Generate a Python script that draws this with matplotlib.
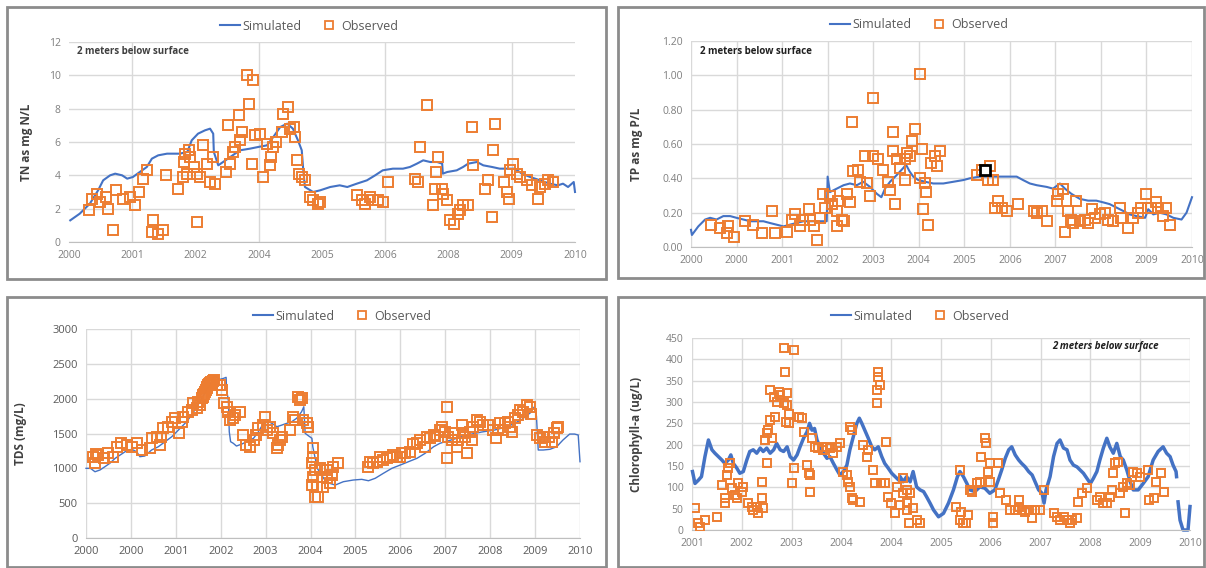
import matplotlib
matplotlib.use('Agg')
import matplotlib.pyplot as plt
from matplotlib.lines import Line2D
from matplotlib.patches import Rectangle
import numpy as np

plt.rcParams['font.family'] = ['Open Sans', 'DejaVu Sans']

SIM_COLOR = '#4472C4'
OBS_COLOR = '#ED7D31'
GRID_COLOR = '#d9d9d9'
nan = float('nan')

# x values are positions along each panel's time axis, in tick intervals

# --- TN panel (top left) ---
tn_labels = ['2000', '2001', '2002', '2004', '2005', '2006', '2008', '2009', '2010']
tn_sim = [(0.02, 1.3), (0.17, 1.7), (0.33, 2.3), (0.46, 3.1), (0.54, 3.7), (0.65, 4.0), (0.73, 4.1),
          (0.84, 4.0), (0.92, 3.8), (1.01, 3.9), (1.12, 4.2), (1.23, 4.5), (1.31, 5.0), (1.41, 5.2),
          (1.55, 5.3), (1.75, 5.3), (1.87, 5.4), (1.94, 6.1), (2.04, 6.5), (2.15, 6.7), (2.23, 6.8),
          (2.28, 6.5), (2.29, 5.4), (2.36, 4.6), (2.55, 5.1), (2.70, 5.5), (2.86, 5.6), (2.99, 5.7),
          (3.13, 5.8), (3.23, 6.3), (3.34, 6.9), (3.45, 7.1), (3.54, 6.8), (3.62, 6.1), (3.68, 5.5),
          (3.70, 4.5), (3.73, 3.3), (3.86, 3.0), (3.97, 3.1), (4.13, 3.3), (4.28, 3.4), (4.40, 3.3),
          (4.55, 3.5), (4.71, 3.7), (4.84, 4.0), (4.96, 4.3), (5.12, 4.4), (5.28, 4.4), (5.39, 4.5),
          (5.50, 4.7), (5.60, 4.9), (5.71, 4.8), (5.82, 4.8), (5.90, 4.7), (5.91, 4.1), (5.98, 4.2),
          (6.13, 4.3), (6.23, 4.5), (6.31, 4.7), (6.45, 4.8), (6.55, 4.6), (6.69, 4.5), (6.81, 4.4),
          (6.94, 4.4), (7.05, 4.4), (7.16, 4.1), (7.29, 3.9), (7.45, 3.7), (7.60, 3.5), (7.73, 3.4),
          (7.81, 3.5), (7.89, 3.3), (7.95, 3.5), (7.98, 3.6), (8.0, 3.0)]
tn_obs = [(0.36, 2.6), (0.45, 2.9), (0.49, 2.4), (0.58, 2.7), (0.32, 1.9), (0.62, 2.0), (0.70, 0.7),
          (0.75, 3.1), (0.86, 2.6), (0.96, 2.7), (1.04, 2.2), (1.10, 3.0), (1.17, 3.8), (1.23, 4.3),
          (1.33, 1.3), (1.31, 0.6), (1.49, 0.7), (1.41, 0.5), (1.54, 4.0), (1.73, 3.2), (1.80, 3.9),
          (1.83, 5.3), (1.89, 5.5), (1.91, 5.1), (1.82, 4.8), (1.97, 4.5), (1.86, 4.1), (2.02, 4.1),
          (2.07, 3.9), (2.12, 5.8), (2.18, 4.7), (2.02, 1.2), (2.23, 3.6), (2.28, 5.1), (2.31, 3.5),
          (2.49, 4.2), (2.55, 4.7), (2.60, 5.4), (2.62, 5.7), (2.70, 6.1), (2.69, 7.6), (2.52, 7.0),
          (2.73, 6.6), (2.84, 8.3), (2.81, 10.0), (2.91, 9.7), (2.89, 4.7), (2.94, 6.4), (3.02, 6.5),
          (3.07, 3.9), (3.13, 5.9), (3.18, 4.6), (3.20, 5.1), (3.23, 5.7), (3.28, 6.0), (3.36, 6.6),
          (3.39, 7.7), (3.47, 8.1), (3.49, 6.8), (3.55, 6.9), (3.57, 6.3), (3.60, 4.9), (3.63, 4.1),
          (3.68, 3.9), (3.73, 3.7), (3.81, 2.7), (3.86, 2.5), (3.94, 2.3), (3.97, 2.4), (4.55, 2.8),
          (4.63, 2.5), (4.68, 2.3), (4.76, 2.7), (4.81, 2.5), (4.89, 2.5), (4.97, 2.4), (5.05, 3.6),
          (5.47, 3.8), (5.52, 3.6), (5.55, 5.7), (5.66, 8.2), (5.76, 2.2), (5.79, 3.2), (5.84, 5.1),
          (5.81, 4.2), (5.89, 3.2), (5.92, 2.9), (5.97, 2.5), (6.02, 1.3), (6.08, 1.1), (6.15, 1.7),
          (6.18, 1.9), (6.23, 2.2), (6.31, 2.2), (6.37, 6.9), (6.39, 4.6), (6.58, 3.2), (6.63, 3.7),
          (6.68, 1.5), (6.71, 5.5), (6.73, 7.1), (6.87, 3.6), (6.92, 3.0), (6.95, 2.6), (6.97, 4.3),
          (7.02, 4.7), (7.08, 4.1), (7.13, 3.9), (7.24, 3.7), (7.32, 3.4), (7.42, 2.6), (7.45, 3.3),
          (7.53, 3.5), (7.58, 3.7), (7.66, 3.6)]

# --- TP panel (top right) ---
tp_labels = ['2000', '2000', '2001', '2002', '2003', '2004', '2005', '2006', '2007', '2008', '2009', '2010']
tp_sim = [(0.0, 0.10), (0.02, 0.07), (0.16, 0.12), (0.31, 0.16), (0.42, 0.17), (0.56, 0.16), (0.71, 0.18),
          (0.86, 0.18), (1.00, 0.17), (1.15, 0.16), (1.30, 0.15), (1.44, 0.15), (1.59, 0.15), (1.73, 0.14),
          (1.88, 0.13), (2.03, 0.12), (2.17, 0.13), (2.32, 0.14), (2.47, 0.15), (2.61, 0.15), (2.76, 0.15),
          (2.91, 0.15), (2.98, 0.15), (3.00, 0.41), (3.05, 0.32), (3.20, 0.34), (3.35, 0.36), (3.49, 0.37),
          (3.64, 0.36), (3.78, 0.38), (3.93, 0.35), (4.08, 0.31), (4.18, 0.29), (4.26, 0.34), (4.37, 0.38),
          (4.52, 0.42), (4.66, 0.46), (4.72, 0.48), (4.80, 0.44), (4.88, 0.41), (4.99, 0.39), (5.14, 0.38),
          (5.32, 0.37), (5.54, 0.37), (5.76, 0.38), (5.98, 0.39), (6.12, 0.40), (6.34, 0.41), (6.56, 0.41),
          (6.78, 0.41), (7.00, 0.41), (7.15, 0.41), (7.29, 0.39), (7.44, 0.37), (7.59, 0.36), (7.81, 0.35),
          (7.95, 0.34), (8.10, 0.37), (8.21, 0.34), (8.35, 0.31), (8.54, 0.28), (8.72, 0.27), (8.90, 0.27),
          (9.05, 0.26), (9.19, 0.25), (9.34, 0.23), (9.49, 0.21), (9.63, 0.19), (9.78, 0.18), (9.97, 0.17),
          (10.04, 0.22), (10.15, 0.19), (10.29, 0.20), (10.44, 0.19), (10.59, 0.17), (10.77, 0.16),
          (10.88, 0.20), (11.0, 0.29)]
tp_obs = [(0.45, 0.13), (0.64, 0.11), (0.82, 0.12), (0.94, 0.06), (0.78, 0.08), (1.19, 0.15), (1.37, 0.13),
          (1.55, 0.08), (1.77, 0.21), (1.85, 0.08), (2.10, 0.09), (2.21, 0.16), (2.28, 0.19), (2.39, 0.12),
          (2.47, 0.16), (2.58, 0.22), (2.61, 0.16), (2.69, 0.12), (2.76, 0.04), (2.83, 0.17), (2.90, 0.31),
          (2.94, 0.23), (3.05, 0.30), (3.09, 0.25), (3.20, 0.21), (3.23, 0.27), (3.20, 0.12), (3.31, 0.16),
          (3.35, 0.15), (3.42, 0.31), (3.49, 0.26), (3.53, 0.73), (3.56, 0.44), (3.67, 0.45), (3.71, 0.38),
          (3.86, 0.37), (3.82, 0.53), (3.93, 0.30), (4.00, 0.87), (4.00, 0.53), (4.11, 0.51), (4.22, 0.45),
          (4.37, 0.33), (4.33, 0.38), (4.44, 0.67), (4.43, 0.56), (4.48, 0.25), (4.52, 0.51), (4.59, 0.46),
          (4.70, 0.39), (4.74, 0.55), (4.70, 0.51), (4.81, 0.53), (4.85, 0.62), (4.92, 0.69), (5.03, 1.01),
          (5.07, 0.57), (5.03, 0.40), (5.14, 0.37), (5.17, 0.32), (5.10, 0.22), (5.21, 0.13), (5.28, 0.49),
          (5.36, 0.53), (5.40, 0.47), (5.47, 0.56), (6.27, 0.42), (6.38, 0.45), (6.56, 0.47), (6.64, 0.39),
          (6.53, 0.39), (6.67, 0.23), (6.75, 0.27), (6.82, 0.23), (6.93, 0.21), (7.19, 0.25), (7.52, 0.21),
          (7.59, 0.20), (7.70, 0.21), (7.81, 0.15), (8.03, 0.27), (8.06, 0.31), (8.17, 0.34), (8.21, 0.09),
          (8.28, 0.21), (8.35, 0.16), (8.39, 0.14), (8.46, 0.27), (8.54, 0.15), (8.65, 0.16), (8.72, 0.14),
          (8.80, 0.22), (8.87, 0.17), (8.98, 0.19), (9.09, 0.20), (9.16, 0.16), (9.27, 0.15), (9.42, 0.23),
          (9.45, 0.17), (9.60, 0.11), (9.71, 0.17), (9.82, 0.20), (9.89, 0.23), (10.00, 0.31), (10.04, 0.23),
          (10.11, 0.23), (10.22, 0.26), (10.26, 0.23), (10.37, 0.18), (10.44, 0.23), (10.51, 0.13)]
tp_marked = [(6.45, 0.45)]

# --- TDS panel (bottom left) ---
tds_labels = ['2000', '2000', '2001', '2002', '2003', '2004', '2005', '2006', '2007', '2008', '2009', '2010']
tds_sim = [(0.0, 1000), (0.10, 1000), (0.20, 951), (0.31, 976), (0.42, 1023), (0.53, 1072), (0.65, 1144),
           (0.76, 1191), (0.87, 1238), (1.02, 1273), (1.13, 1238), (1.20, 1167), (1.31, 1177), (1.46, 1263),
           (1.61, 1310), (1.76, 1382), (1.91, 1454), (2.02, 1525), (2.13, 1597), (2.24, 1669), (2.35, 1765),
           (2.47, 1884), (2.58, 2005), (2.69, 2124), (2.80, 2243), (2.85, 2325), (2.91, 2306), (2.98, 2277),
           (3.06, 2291), (3.12, 2306), (3.13, 2124), (3.17, 1980), (3.19, 1525), (3.22, 1382), (3.28, 1359),
           (3.35, 1320), (3.47, 1349), (3.58, 1382), (3.73, 1431), (3.84, 1525), (3.95, 1646), (4.06, 1669),
           (4.14, 1646), (4.25, 1597), (4.36, 1621), (4.47, 1646), (4.58, 1669), (4.69, 1718), (4.80, 1812),
           (4.85, 1884), (4.88, 1502), (5.03, 1431), (5.05, 1310), (5.15, 1000), (5.35, 800), (5.55, 760),
           (5.73, 808), (5.95, 832), (6.14, 842), (6.29, 822), (6.44, 857), (6.62, 928), (6.81, 1000),
           (7.00, 1048), (7.18, 1095), (7.37, 1144), (7.55, 1215), (7.74, 1310), (7.88, 1359), (8.00, 1382),
           (8.2, 1420), (8.5, 1480), (8.8, 1520), (9.1, 1550), (9.4, 1600), (9.7, 1700), (9.9, 1800),
           (9.98, 1880), (10.03, 1750), (10.07, 1263), (10.18, 1263), (10.33, 1273), (10.48, 1310),
           (10.62, 1406), (10.77, 1492), (10.88, 1492), (10.96, 1478), (11.0, 1095)]
tds_obs = [(0.16, 1167), (0.20, 1072), (0.27, 1191), (0.22, 1200), (0.39, 1144), (0.50, 1215), (0.61, 1167),
           (0.68, 1310), (0.79, 1359), (0.91, 1335), (1.02, 1310), (1.13, 1359), (1.24, 1263), (1.43, 1287),
           (1.46, 1431), (1.57, 1454), (1.65, 1335), (1.68, 1454), (1.72, 1574), (1.83, 1597), (1.91, 1669),
           (1.98, 1718), (2.06, 1502), (2.13, 1669), (2.17, 1741), (2.28, 1812), (2.35, 1837), (2.39, 1933),
           (2.47, 1861), (2.50, 1956), (2.54, 1909), (2.58, 2005), (2.61, 2052), (2.65, 2100), (2.69, 2148),
           (2.72, 2196), (2.76, 2229), (2.80, 2196), (2.84, 2267), (2.60, 2030), (2.63, 2070), (2.67, 2120),
           (2.70, 2170), (2.74, 2210), (2.78, 2240), (2.82, 2250), (2.91, 2196), (2.98, 2196), (3.02, 2124),
           (3.07, 1942), (3.13, 1884), (3.17, 1812), (3.20, 1693), (3.28, 1718), (3.31, 1765), (3.43, 1812),
           (3.49, 1478), (3.57, 1335), (3.65, 1310), (3.73, 1406), (3.79, 1478), (3.84, 1574), (3.95, 1621),
           (3.99, 1741), (4.02, 1550), (4.10, 1597), (4.17, 1502), (4.25, 1287), (4.28, 1335), (4.32, 1406),
           (4.36, 1454), (4.54, 1550), (4.62, 1741), (4.65, 1693), (4.71, 2028), (4.76, 1980), (4.80, 2005),
           (4.84, 1693), (4.91, 1646), (4.95, 1597), (5.06, 1287), (5.06, 1167), (5.04, 1072), (5.10, 976),
           (5.06, 880), (5.04, 760), (5.14, 736), (5.10, 593), (5.17, 593), (5.21, 1000), (5.25, 880),
           (5.28, 736), (5.36, 976), (5.36, 857), (5.43, 784), (5.47, 904), (5.51, 1023), (5.62, 1072),
           (6.29, 1023), (6.33, 1095), (6.40, 1072), (6.47, 1095), (6.55, 1167), (6.62, 1119), (6.70, 1144),
           (6.77, 1167), (6.84, 1191), (6.92, 1167), (6.99, 1167), (7.03, 1215), (7.10, 1224), (7.21, 1238),
           (7.28, 1349), (7.36, 1368), (7.43, 1406), (7.55, 1310), (7.59, 1454), (7.66, 1431), (7.74, 1478),
           (7.77, 1464), (7.88, 1550), (7.92, 1597), (8.00, 1525), (8.03, 1144), (8.03, 1875), (8.07, 1454),
           (8.14, 1406), (8.18, 1502), (8.25, 1310), (8.29, 1406), (8.37, 1621), (8.40, 1502), (8.44, 1454),
           (8.48, 1215), (8.55, 1525), (8.59, 1406), (8.62, 1597), (8.70, 1693), (8.77, 1669), (8.85, 1621),
           (8.96, 1621), (9.07, 1550), (9.14, 1431), (9.18, 1550), (9.22, 1646), (9.29, 1550), (9.33, 1646),
           (9.40, 1669), (9.44, 1597), (9.48, 1525), (9.55, 1718), (9.63, 1765), (9.66, 1837), (9.74, 1812),
           (9.81, 1909), (9.89, 1884), (9.92, 1779), (10.04, 1478), (10.11, 1431), (10.18, 1454),
           (10.22, 1382), (10.30, 1454), (10.37, 1382), (10.41, 1502), (10.48, 1574), (10.52, 1588)]

# --- Chlorophyll-a panel (bottom right) ---
chl_labels = ['2001', '2002', '2003', '2004', '2004', '2005', '2006', '2007', '2008', '2009', '2010']
chl_sim = [(0.01, 137), (0.06, 109), (0.13, 117), (0.19, 125), (0.26, 172), (0.33, 211), (0.40, 188),
           (0.46, 180), (0.53, 172), (0.60, 164), (0.66, 156), (0.73, 164), (0.78, 176), (0.83, 156),
           (0.90, 145), (0.96, 133), (1.03, 137), (1.10, 164), (1.16, 184), (1.23, 188), (1.30, 180),
           (1.37, 192), (1.43, 184), (1.50, 192), (1.57, 180), (1.64, 188), (1.70, 203), (1.77, 188),
           (1.84, 184), (1.91, 195), (1.97, 172), (2.04, 164), (2.11, 176), (2.17, 195), (2.24, 215),
           (2.31, 230), (2.36, 250), (2.41, 234), (2.46, 238), (2.51, 211), (2.57, 195), (2.64, 180),
           (2.71, 168), (2.77, 172), (2.84, 156), (2.91, 141), (2.97, 129), (3.04, 137), (3.11, 152),
           (3.17, 188), (3.24, 219), (3.31, 250), (3.36, 262), (3.41, 250), (3.47, 234), (3.54, 215),
           (3.61, 195), (3.67, 188), (3.74, 195), (3.81, 172), (3.87, 156), (3.94, 145), (4.01, 133),
           (4.08, 125), (4.15, 117), (4.18, 125), (4.24, 113), (4.31, 125), (4.38, 113), (4.44, 137),
           (4.51, 101), (4.58, 94), (4.65, 90), (4.71, 78), (4.78, 63), (4.85, 47), (4.95, 31), (5.05, 39),
           (5.15, 63), (5.25, 94), (5.33, 125), (5.38, 137), (5.45, 125), (5.52, 109), (5.58, 94),
           (5.68, 90), (5.78, 101), (5.88, 98), (5.98, 86), (6.08, 94), (6.15, 117), (6.22, 141),
           (6.29, 168), (6.36, 188), (6.42, 195), (6.49, 176), (6.56, 164), (6.62, 156), (6.69, 148),
           (6.76, 137), (6.83, 129), (6.89, 113), (6.96, 94), (7.03, 86), (7.07, 63), (7.11, 94),
           (7.19, 125), (7.26, 172), (7.33, 203), (7.39, 211), (7.46, 192), (7.53, 188), (7.59, 164),
           (7.66, 152), (7.73, 148), (7.79, 141), (7.86, 133), (7.93, 121), (8.00, 109), (8.06, 121),
           (8.13, 137), (8.19, 164), (8.26, 192), (8.33, 215), (8.39, 195), (8.46, 180), (8.53, 203),
           (8.60, 172), (8.66, 164), (8.73, 141), (8.80, 113), (8.86, 94), (8.96, 94), (9.06, 109),
           (9.16, 125), (9.26, 164), (9.36, 184), (9.46, 195), (9.53, 180), (9.60, 172), (9.66, 152),
           (9.72, 137), (9.73, 125), (9.745, nan), (9.76, 66), (9.80, 23), (9.86, 0), (9.96, 0), (10.0, 55)]
chl_obs = [(0.06, 51), (0.13, 16), (0.16, 8), (0.26, 23), (0.50, 31), (0.60, 105), (0.66, 74), (0.66, 63),
           (0.70, 129), (0.73, 145), (0.76, 156), (0.80, 98), (0.86, 82), (0.90, 74), (0.93, 109),
           (1.00, 90), (1.03, 101), (1.13, 63), (1.20, 54), (1.23, 47), (1.30, 55), (1.33, 39), (1.40, 113),
           (1.40, 74), (1.43, 51), (1.47, 211), (1.50, 227), (1.53, 234), (1.50, 156), (1.57, 258),
           (1.60, 215), (1.57, 328), (1.64, 312), (1.71, 301), (1.74, 324), (1.77, 316), (1.67, 266),
           (1.84, 426), (2.04, 422), (1.86, 371), (1.90, 320), (1.84, 297), (1.90, 293), (1.94, 273),
           (1.88, 254), (1.94, 250), (2.04, 145), (2.00, 109), (2.14, 266), (2.21, 262), (2.24, 230),
           (2.31, 152), (2.34, 133), (2.37, 90), (2.37, 129), (2.41, 215), (2.47, 195), (2.54, 192),
           (2.61, 195), (2.64, 188), (2.71, 195), (2.77, 192), (2.84, 180), (2.91, 195), (2.97, 203),
           (3.04, 137), (3.11, 129), (3.14, 113), (3.17, 101), (3.17, 242), (3.21, 234), (3.21, 74),
           (3.24, 70), (3.37, 66), (3.44, 199), (3.51, 172), (3.54, 188), (3.64, 141), (3.67, 109),
           (3.71, 297), (3.71, 328), (3.74, 359), (3.74, 371), (3.77, 340), (3.80, 109), (3.87, 109),
           (3.90, 207), (3.93, 78), (4.00, 63), (4.07, 39), (4.11, 101), (4.18, 59), (4.24, 86), (4.31, 47),
           (4.35, 16), (4.24, 121), (4.31, 94), (4.31, 63), (4.38, 86), (4.44, 51), (4.51, 23), (4.58, 16),
           (5.31, 55), (5.41, 43), (5.38, 141), (5.45, 16), (5.51, 16), (5.55, 35), (5.38, 23), (5.58, 94),
           (5.62, 90), (5.72, 109), (5.78, 113), (5.81, 172), (5.88, 215), (5.90, 203), (5.95, 137),
           (5.98, 113), (5.98, 156), (6.05, 31), (6.05, 16), (6.15, 156), (6.18, 86), (6.31, 70), (6.38, 47),
           (6.49, 47), (6.56, 70), (6.56, 55), (6.62, 47), (6.69, 43), (6.76, 47), (6.83, 27), (6.89, 47),
           (6.99, 47), (7.06, 94), (7.26, 39), (7.33, 31), (7.39, 23), (7.46, 31), (7.53, 23), (7.59, 16),
           (7.63, 23), (7.73, 27), (7.76, 66), (7.83, 86), (7.93, 98), (8.13, 70), (8.19, 78), (8.26, 63),
           (8.33, 63), (8.39, 78), (8.43, 94), (8.46, 133), (8.50, 156), (8.56, 160), (8.60, 86),
           (8.66, 101), (8.70, 39), (8.73, 109), (8.80, 105), (8.86, 137), (8.93, 133), (9.00, 125),
           (9.16, 141), (9.18, 70), (9.28, 74), (9.31, 113), (9.41, 133), (9.48, 90)]

W, H = 1206, 568
fig = plt.figure(figsize=(W / 100, H / 100), dpi=100)


def fig_box(left, top, right, bottom):
    return [left / W, 1 - bottom / H, (right - left) / W, (bottom - top) / H]


def add_frame(left, top, right, bottom):
    x0, y0, w, h = fig_box(left, top, right, bottom)
    fig.patches.append(Rectangle((x0, y0), w, h, transform=fig.transFigure, fill=False,
                                 edgecolor='#8c8c8c', linewidth=2))


def add_panel(box, labels, ymax, ystep, yfmt, ylabel, label_x, tick_color, tick_size, vgrid=None):
    ax = fig.add_axes(fig_box(*box))
    n = len(labels) - 1
    ax.set_xlim(0, n)
    ax.set_ylim(0, ymax)
    ax.set_xticks(range(n + 1))
    ax.set_xticklabels(labels)
    yt = np.arange(0, ymax + ystep / 2, ystep)
    ax.set_yticks(yt)
    ax.set_yticklabels([yfmt.format(v) for v in yt])
    ax.tick_params(length=0, colors=tick_color, labelsize=tick_size, pad=6)
    ax.grid(axis='y', color=GRID_COLOR, linewidth=1)
    if vgrid is None:
        ax.grid(axis='x', color=GRID_COLOR, linewidth=1)
    else:
        for v in vgrid:
            ax.axvline(v, color=GRID_COLOR, linewidth=1, zorder=0)
    for s in ['top', 'right', 'left']:
        ax.spines[s].set_visible(False)
    ax.spines['bottom'].set_color('#bfbfbf')
    ax.set_axisbelow(True)
    ax.set_ylabel(ylabel, fontsize=8.5, fontweight='bold', color='#404040')
    ax.yaxis.set_label_coords((label_x - box[0]) / (box[2] - box[0]), 0.5)
    return ax


def draw_series(ax, sim, obs, lw, ms):
    sx, sy = zip(*sim)
    ax.plot(sx, sy, color=SIM_COLOR, linewidth=lw, zorder=2, clip_on=False)
    ox, oy = zip(*obs)
    ax.plot(ox, oy, ls='none', marker='s', ms=ms, mfc='none', mec=OBS_COLOR, mew=1.4, zorder=3)


def add_legend(cx, cy, ms):
    handles = [Line2D([], [], color=SIM_COLOR, linewidth=1.5),
               Line2D([], [], ls='none', marker='s', ms=ms, mfc='none', mec=OBS_COLOR, mew=1.3)]
    fig.legend(handles, ['Simulated', 'Observed'], loc='center', bbox_to_anchor=(cx / W, 1 - cy / H),
               ncol=2, frameon=False, fontsize=9, handlelength=1.6, handletextpad=0.2,
               columnspacing=1.4, labelcolor='#595959')


# frames round each chart
add_frame(7, 7, 606, 279)
add_frame(618, 7, 1204, 278)
add_frame(7, 297, 606, 567)
add_frame(618, 297, 1204, 567)

# TN
ax = add_panel((69, 42, 575, 242), tn_labels, 12, 2, '{:.0f}', 'TN as mg N/L', 33, '#7f7f7f', 7.5,
               vgrid=[1, 3, 5, 7])
draw_series(ax, tn_sim, tn_obs, 1.5, 7)
fig.text(77 / W, 1 - 52 / H, '2 meters below surface', fontsize=7, fontweight='bold',
         color='#404040', va='center')
add_legend(309, 26, 6)

# TP
ax = add_panel((691, 41, 1192, 247), tp_labels, 1.2, 0.2, '{:.2f}', 'TP as mg P/L', 643, '#7f7f7f', 7.5)
draw_series(ax, tp_sim, tp_obs, 1.5, 6.5)
mx, my = zip(*tp_marked)
ax.plot(mx, my, ls='none', marker='s', ms=6.5, mfc='white', mec='black', mew=2, zorder=4)
fig.text(700 / W, 1 - 52 / H, '2 meters below surface', fontsize=7, fontweight='bold',
         color='#202020', va='center')
add_legend(919, 25, 6)

# TDS
ax = add_panel((86, 329, 580, 538), tds_labels, 3000, 500, '{:.0f}', 'TDS (mg/L)', 27, '#595959', 8)
draw_series(ax, tds_sim, tds_obs, 1.0, 6.5)
add_legend(342, 316, 6)

# Chlorophyll-a
ax = add_panel((692, 338, 1190, 530), chl_labels, 450, 50, '{:.0f}', 'Chlorophyll-a (ug/L)', 643,
               '#7f7f7f', 7.5)
draw_series(ax, chl_sim, chl_obs, 2.5, 6)
fig.text(1052 / W, 1 - 347 / H, '2 meters below surface', fontsize=7, fontweight='bold',
         fontstyle='italic', color='#202020', va='center')
add_legend(920, 316, 6)

fig.savefig('out.png', dpi=100)
plt.close(fig)
